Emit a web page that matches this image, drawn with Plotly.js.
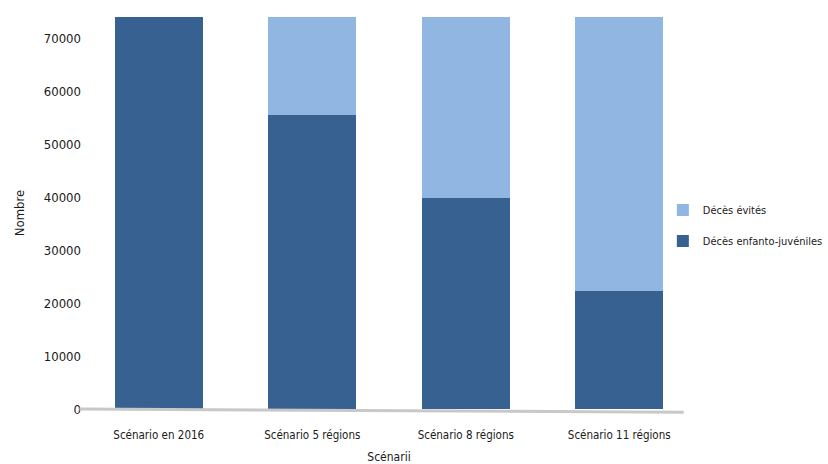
<!DOCTYPE html>
<html>
<head>
<meta charset="utf-8">
<script src="https://cdn.plot.ly/plotly-3.0.1.min.js"></script>
<style>
  html, body { margin: 0; padding: 0; background: #ffffff; }
  #chart { width: 828px; height: 464px; }
  #chart svg text { font-stretch: condensed; }
</style>
</head>
<body>
<div id="chart"></div>
<script>
// Scenarios compared
const scenarios = ["Scénario en 2016", "Scénario 5 régions", "Scénario 8 régions", "Scénario 11 régions"];
// Child and youth deaths remaining under each scenario
const decesEnfantoJuveniles = [74000, 55500, 39800, 22300];
// Deaths avoided relative to 2016
const decesEvites = [0, 18500, 34200, 51700];
const yTicks = [0, 10000, 20000, 30000, 40000, 50000, 60000, 70000];

const font = "'DejaVu Sans Condensed', 'DejaVu Sans', sans-serif";

const traces = [
  {
    type: "bar",
    name: "Décès enfanto-juvéniles",
    x: scenarios,
    y: decesEnfantoJuveniles,
    marker: { color: "#376190" },
    legendgroup: "restants",
    legendrank: 2,
    hoverinfo: "x+y+name"
  },
  {
    type: "bar",
    name: "Décès évités",
    x: scenarios,
    y: decesEvites,
    marker: { color: "#91B6E2" },
    legendgroup: "evites",
    legendrank: 1,
    hoverinfo: "x+y+name"
  }
];

const layout = {
  width: 828,
  height: 464,
  margin: { l: 82, r: 132, t: 17, b: 55, autoexpand: false },
  paper_bgcolor: "#ffffff",
  plot_bgcolor: "#ffffff",
  barmode: "stack",
  bargap: 0.426,
  font: { family: font, color: "#1a1a1a", size: 12 },
  xaxis: {
    showgrid: false,
    zeroline: false,
    showline: false,
    ticks: "",
    ticklabelstandoff: 17,
    tickfont: { size: 11.5, family: font, color: "#1a1a1a" },
    title: { text: "Scénarii", font: { size: 12, family: font }, standoff: 13 }
  },
  yaxis: {
    range: [0, 74000],
    tickvals: yTicks,
    ticktext: yTicks.map(String),
    showgrid: false,
    zeroline: false,
    showline: false,
    ticks: "",
    ticklabelstandoff: 0,
    tickfont: { size: 13, family: font, color: "#1a1a1a" },
    title: { text: "Nombre", font: { size: 13, family: font }, standoff: 16 }
  },
  legend: {
    x: 0.946, xanchor: "left",
    y: 0.468, yanchor: "middle",
    traceorder: "grouped",
    tracegroupgap: 12,
    font: { size: 11, family: font, color: "#1a1a1a" },
    bgcolor: "rgba(0,0,0,0)"
  },
  shapes: [
    {
      type: "line",
      xref: "paper", yref: "paper",
      x0: -0.004, y0: 0.0, x1: 0.98, y1: -0.008,
      line: { color: "#c8c8c8", width: 3 },
      layer: "above"
    }
  ]
};

Plotly.newPlot("chart", traces, layout, { displayModeBar: false, staticPlot: true });
</script>
</body>
</html>
